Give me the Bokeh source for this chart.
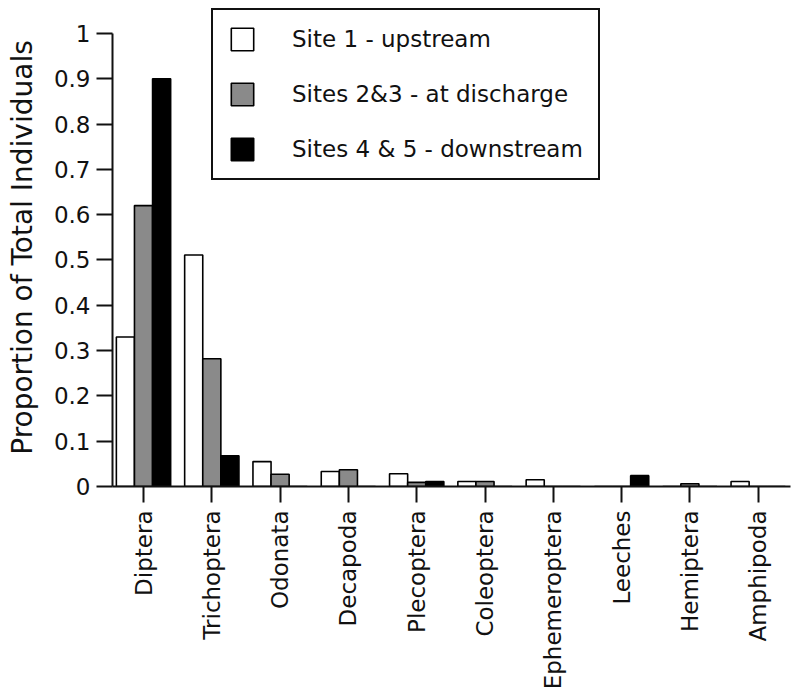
import math
from bokeh.plotting import figure
from bokeh.models import ColumnDataSource, Range1d, FixedTicker, Legend, LegendItem
from bokeh.transform import dodge
from bokeh.embed import file_html
from bokeh.resources import INLINE

categories = ["Diptera", "Trichoptera", "Odonata", "Decapoda", "Plecoptera",
              "Coleoptera", "Ephemeroptera", "Leeches", "Hemiptera", "Amphipoda"]
site1 = [0.330, 0.511, 0.055, 0.033, 0.028, 0.011, 0.015, 0.0, 0.0, 0.011]
site23 = [0.620, 0.282, 0.027, 0.037, 0.009, 0.011, 0.0, 0.0, 0.006, 0.0]
site45 = [0.900, 0.068, 0.0, 0.0, 0.011, 0.0, 0.0, 0.024, 0.0, 0.0]
series_names = ["Site 1 - upstream", "Sites 2&3 - at discharge", "Sites 4 & 5 - downstream"]
y_ticks = [0, 0.1, 0.2, 0.3, 0.4, 0.5, 0.6, 0.7, 0.8, 0.9, 1]
y_tick_labels = ["0", "0.1", "0.2", "0.3", "0.4", "0.5", "0.6", "0.7", "0.8", "0.9", "1"]

FONT = "DejaVu Sans"
TXT = "#111111"

src = ColumnDataSource(dict(x=list(range(len(categories))), s1=site1, s2=site23, s3=site45))

p = figure(width=792, height=692, output_backend="svg", toolbar_location=None,
           x_range=Range1d(-0.454, 9.473), y_range=Range1d(0, 1.055),
           min_border_left=112, min_border_right=2, min_border_top=8, min_border_bottom=205)
p.outline_line_color = None
p.grid.visible = False
p.background_fill_color = "white"
p.border_fill_color = "white"

w = 0.265
r1 = p.vbar(x=dodge("x", -w, range=p.x_range), top="s1", width=w, source=src,
            fill_color="white", line_color="black", line_width=1.6)
r2 = p.vbar(x=dodge("x", 0, range=p.x_range), top="s2", width=w, source=src,
            fill_color="#8a8a8a", line_color="black", line_width=1.6)
r3 = p.vbar(x=dodge("x", w, range=p.x_range), top="s3", width=w, source=src,
            fill_color="black", line_color="black", line_width=1.6)

# axes
xa = p.xaxis[0]
xa.ticker = FixedTicker(ticks=list(range(len(categories))))
xa.major_label_overrides = {i: c for i, c in enumerate(categories)}
xa.major_label_orientation = math.pi / 2
xa.minor_tick_line_color = None
xa.major_tick_in = 0
xa.major_tick_out = 16
xa.major_label_standoff = 8
xa.major_label_text_font = FONT
xa.major_label_text_font_size = "23px"
xa.major_label_text_color = TXT

ya = p.yaxis[0]
ya.ticker = FixedTicker(ticks=y_ticks)
ya.major_label_overrides = {v: s for v, s in zip(y_ticks, y_tick_labels)}
ya.bounds = (0, 1)
ya.minor_tick_line_color = None
ya.major_tick_in = 0
ya.major_tick_out = 16
ya.major_label_standoff = 6
ya.major_label_text_font = FONT
ya.major_label_text_font_size = "23px"
ya.major_label_text_color = TXT
ya.axis_label = "Proportion of Total Individuals"
ya.axis_label_text_font = FONT
ya.axis_label_text_font_size = "28px"
ya.axis_label_text_font_style = "normal"
ya.axis_label_text_color = TXT
ya.axis_label_standoff = 12

for ax in (xa, ya):
    ax.axis_line_width = 2
    ax.axis_line_color = "#111111"
    ax.major_tick_line_width = 2
    ax.major_tick_line_color = "#111111"

legend = Legend(items=[LegendItem(label=series_names[0], renderers=[r1]),
                       LegendItem(label=series_names[1], renderers=[r2]),
                       LegendItem(label=series_names[2], renderers=[r3])],
                location=(99, 306), margin=0, padding=15, spacing=27,
                glyph_width=28, glyph_height=28, label_height=28, label_standoff=36,
                label_text_font=FONT, label_text_font_size="23px", label_text_color=TXT,
                border_line_color="#111111", border_line_width=2, border_line_alpha=1,
                background_fill_color="white", background_fill_alpha=1)
p.add_layout(legend, "center")

open("out.html", "w").write(file_html(p, INLINE))
